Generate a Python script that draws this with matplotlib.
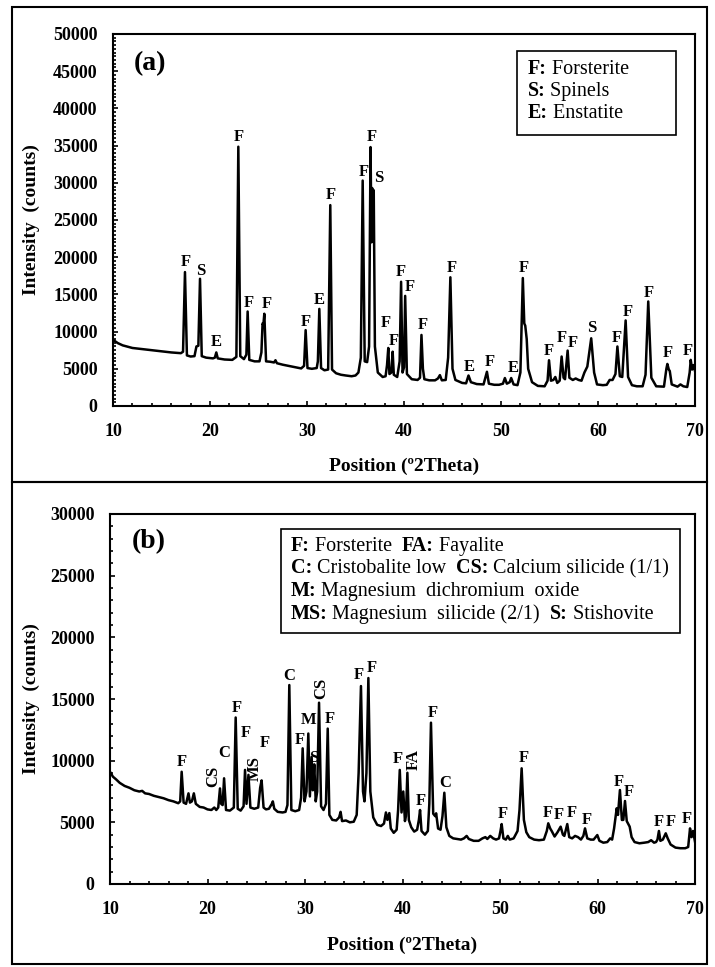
#!/usr/bin/env python3
from matplotlib import pyplot as plt
from matplotlib.patches import Rectangle
from matplotlib.ticker import MultipleLocator

# ---- panel (a): traced pattern vertices ----
theta_a = [10.0, 10.5, 11.0, 12.0, 13.0, 14.0, 15.0, 16.0, 17.0, 17.22, 17.42, 17.62, 18.0, 18.4, 18.6, 18.8,
           18.97, 19.15, 19.6, 20.3, 20.5, 20.65, 20.8, 21.5, 22.3, 22.72, 22.92, 23.12, 23.5, 23.75, 23.88, 24.05,
           24.6, 25.1, 25.3, 25.42, 25.5, 25.6, 25.78, 26.2, 26.6, 26.75, 26.9, 27.5, 28.5, 29.4, 29.7, 29.78,
           29.86, 30.05, 30.5, 31.0, 31.12, 31.27, 31.45, 31.8, 32.18, 32.4, 32.58, 33.0, 33.5, 34.0, 34.6, 35.0,
           35.3, 35.55, 35.74, 35.95, 36.2, 36.4, 36.55, 36.65, 36.72, 36.8, 36.88, 37.0, 37.3, 37.8, 38.1, 38.25,
           38.38, 38.5, 38.7, 38.83, 38.95, 39.3, 39.55, 39.7, 39.85, 40.0, 40.12, 40.3, 40.8, 41.4, 41.65, 41.8,
           41.95, 42.1, 42.6, 43.2, 43.5, 43.7, 43.9, 44.3, 44.55, 44.78, 45.0, 45.3, 46.0, 46.4, 46.65, 46.9,
           47.5, 48.2, 48.55, 48.75, 49.3, 49.8, 50.2, 50.4, 50.6, 50.9, 51.05, 51.3, 51.7, 52.0, 52.25, 52.4,
           52.5, 52.65, 52.8, 53.2, 53.8, 54.5, 54.8, 54.95, 55.15, 55.4, 55.6, 55.8, 56.05, 56.25, 56.45, 56.6,
           56.87, 57.05, 57.4, 57.7, 58.0, 58.3, 58.6, 58.9, 59.3, 59.6, 59.9, 60.5, 60.9, 61.2, 61.5, 61.8,
           62.0, 62.25, 62.5, 62.85, 63.1, 63.5, 64.0, 64.6, 64.9, 65.18, 65.5, 66.0, 66.8, 67.05, 67.15, 67.3,
           67.4, 67.6, 68.2, 68.5, 68.8, 69.2, 69.45, 69.56, 69.7, 69.85, 70.0]
counts_a = [8900, 8450, 8150, 7800, 7650, 7500, 7350, 7200, 7100, 7300, 18000, 6800, 6650, 6700, 8000, 8100,
            17100, 6700, 6500, 6400, 6500, 7200, 6400, 6250, 6200, 6600, 34850, 6700, 6300, 6900, 12700, 6200,
            6000, 6000, 7200, 11100, 10900, 12400, 6000, 5950, 5850, 6150, 5750, 5550, 5290, 5050, 5400, 7700,
            10200, 5100, 5000, 5100, 6000, 13050, 5100, 4800, 4900, 27000, 4900, 4400, 4200, 4100, 4000, 4100,
            4500, 6500, 30300, 6000, 5900, 8000, 34800, 22000, 29300, 22500, 29000, 8000, 4500, 3900, 4000, 5500,
            7800, 4300, 4500, 7300, 4200, 3900, 6000, 16700, 4500, 5200, 14800, 4300, 3600, 3500, 3800, 9550,
            5000, 3600, 3450, 3450, 3700, 4150, 3450, 3500, 6500, 17300, 5000, 3500, 3100, 3050, 4100, 3200,
            2950, 2900, 4600, 3000, 2850, 2850, 3000, 3760, 3000, 3200, 3760, 2900, 2800, 4500, 17200, 11100,
            10800, 9000, 5000, 3200, 2700, 2650, 3400, 6150, 3400, 3500, 3900, 3100, 3400, 6650, 3800, 3600,
            7450, 3800, 3500, 3700, 3500, 3400, 4500, 5300, 9100, 4500, 2900, 2800, 2850, 3500, 3500, 4300,
            8000, 4000, 3900, 11500, 3900, 2800, 2650, 2650, 4200, 14050, 3800, 2650, 2600, 5000, 5650, 4900,
            4700, 2900, 2600, 2900, 2650, 2550, 4500, 6200, 4900, 5500, 4700]
labels_a = ['F', 'S', 'E', 'F', 'F', 'F', 'F', 'E', 'F', 'F', 'F', 'S', 'F', 'F', 'F', 'F', 'F', 'F',
            'E', 'F', 'E', 'F', 'F', 'F', 'F', 'S', 'F', 'F', 'F', 'F', 'F']
label_x_a = [17.49, 19.07, 20.69, 22.96, 24.05, 25.84, 29.9, 31.24, 32.47, 35.9, 36.73, 37.35, 38.1, 39.0,
             39.7, 40.55, 41.93, 44.98, 46.7, 48.8, 51.27, 52.4, 54.88, 56.25, 57.45, 59.35, 61.92, 63.05,
             65.19, 67.15, 69.3]
label_y_a = [19350, 18190, 8640, 36200, 13840, 13700, 11330, 14250, 28360, 31500, 36200, 30640, 11100, 8780,
             18050, 15950, 10890, 18590, 5290, 5960, 5060, 18500, 7430, 9100, 8420, 10440, 9100, 12680,
             15140, 7080, 7430]
legend_a = [[('F:', 'bold'), (' Forsterite', 'normal')],
            [('S:', 'bold'), (' Spinels', 'normal')],
            [('E:', 'bold'), (' Enstatite', 'normal')]]

# ---- panel (b): traced pattern vertices ----
theta_b = [10.0, 10.3, 10.6, 11.0, 11.5, 12.0, 12.5, 13.0, 13.3, 13.6, 14.0, 14.5, 15.0, 15.5, 16.0, 16.5,
           17.0, 17.2, 17.35, 17.55, 17.8, 18.05, 18.2, 18.4, 18.6, 18.8, 19.2, 19.6, 20.0, 20.4, 20.7, 20.9,
           21.1, 21.28, 21.4, 21.55, 21.7, 21.9, 22.3, 22.7, 22.89, 23.1, 23.4, 23.7, 23.85, 24.0, 24.2, 24.4,
           24.8, 25.2, 25.4, 25.55, 25.75, 26.0, 26.3, 26.6, 26.7, 26.85, 27.2, 27.7, 28.0, 28.2, 28.39, 28.6,
           29.0, 29.4, 29.6, 29.76, 29.95, 30.15, 30.34, 30.5, 30.68, 30.8, 30.95, 31.1, 31.25, 31.44, 31.65,
           31.9, 32.15, 32.33, 32.5, 32.8, 33.2, 33.5, 33.65, 33.8, 34.2, 34.6, 35.0, 35.3, 35.5, 35.74, 35.95,
           36.1, 36.3, 36.5, 36.7, 37.0, 37.4, 37.8, 38.1, 38.3, 38.45, 38.65, 38.8, 39.1, 39.4, 39.55, 39.72,
           39.9, 40.08, 40.25, 40.35, 40.5, 40.65, 40.9, 41.2, 41.5, 41.68, 41.8, 41.95, 42.3, 42.6, 42.75,
           42.92, 43.15, 43.35, 43.45, 43.65, 43.9, 44.1, 44.29, 44.5, 44.8, 45.2, 45.6, 46.0, 46.3, 46.58,
           46.8, 47.3, 47.8, 48.2, 48.5, 48.7, 49.0, 49.3, 49.6, 49.9, 50.05, 50.17, 50.35, 50.6, 50.8, 51.0,
           51.4, 51.8, 52.0, 52.22, 52.45, 52.7, 53.0, 53.5, 54.0, 54.5, 54.8, 54.95, 55.15, 55.3, 55.6, 55.9,
           56.22, 56.45, 56.6, 56.9, 57.1, 57.4, 57.7, 58.0, 58.3, 58.55, 58.72, 58.95, 59.3, 59.6, 59.98,
           60.2, 60.6, 61.0, 61.3, 61.5, 61.7, 61.97, 62.1, 62.3, 62.5, 62.65, 62.82, 63.0, 63.3, 63.5, 63.8,
           64.3, 64.8, 65.2, 65.5, 65.8, 66.0, 66.15, 66.3, 66.45, 66.7, 67.0, 67.2, 67.5, 68.0, 68.5, 69.0,
           69.3, 69.49, 69.65, 69.8, 70.0]
counts_b = [9100, 8700, 8500, 8200, 7950, 7800, 7600, 7500, 7550, 7350, 7300, 7150, 7050, 6950, 6800, 6700,
            6550, 6700, 9100, 6600, 6500, 7350, 6600, 6700, 7350, 6500, 6250, 6200, 6050, 6000, 6200, 6000,
            6200, 7750, 6500, 6400, 8570, 6000, 5950, 6200, 13500, 6100, 5950, 6300, 9250, 6500, 8850, 6200,
            6100, 6200, 7800, 8400, 6200, 6050, 6100, 6500, 6700, 6100, 5850, 5800, 5850, 6400, 16130, 6000,
            5900, 6000, 7000, 11000, 6700, 7500, 12200, 7100, 10300, 7600, 9700, 6700, 7500, 14700, 6300,
            6000, 6500, 12600, 5600, 5200, 5150, 5400, 5850, 5100, 5150, 5000, 5050, 5600, 9000, 16050, 7500,
            6700, 9000, 16700, 7500, 5400, 4800, 4700, 4900, 5800, 5200, 5750, 4500, 4150, 4400, 6000, 9250,
            5800, 7500, 5100, 5500, 9020, 5200, 4600, 4250, 4400, 5200, 6000, 4300, 4000, 4300, 6500,
            13080, 5700, 5500, 5730, 4500, 4400, 5500, 7400, 4600, 3900, 3700, 3650, 3600, 3700, 3900,
            3650, 3500, 3500, 3700, 3800, 3650, 3900, 3700, 3600, 3700, 4300, 4860, 3700, 3600, 3900, 3600,
            3700, 4300, 6000, 9380, 5200, 4200, 3800, 3600, 3550, 3600, 4300, 4920, 4500, 4300, 3850, 4200,
            4650, 4000, 3900, 4860, 3800, 3700, 3900, 3800, 3600, 3900, 4510, 3700, 3600, 3600, 3970,
            3500, 3350, 3400, 3700, 3600, 4500, 6140, 5600, 7620, 5190, 5200, 6730, 5100, 4650, 3800, 3400,
            3300, 3350, 3400, 3550, 3350, 3400, 3600, 4300, 3500, 3600, 4110, 3700, 3200, 2950, 2900, 2900,
            3000, 4510, 3800, 4300, 3430]
labels_b = ['F', 'CS', 'C', 'F', 'F', 'MS', 'F', 'C', 'F', 'M', 'S', 'CS', 'F', 'F', 'F', 'F', 'FA', 'F',
            'F', 'C', 'F', 'F', 'F', 'F', 'F', 'F', 'F', 'F', 'F', 'F', 'F']
label_x_b = [17.35, 20.6, 21.7, 23.0, 23.95, 24.87, 25.83, 28.39, 29.49, 30.34, 30.85, 31.7, 32.56, 35.47,
             36.9, 39.57, 41.2, 41.9, 43.1, 44.36, 50.27, 52.4, 54.9, 56.05, 57.35, 58.89, 62.2, 63.26,
             66.24, 67.54, 69.2]
label_y_b = [9920, 8700, 10650, 14300, 12220, 9380, 11400, 16860, 11680, 13300, 10190, 15870, 13350, 16950,
             17490, 10110, 10110, 6760, 13840, 8160, 5680, 10240, 5730, 5590, 5730, 5190, 8300, 7430,
             5050, 5050, 5250]
label_rot_b = [0, 90, 0, 0, 0, 90, 0, 0, 0, 0, 0, 90, 0, 0, 0, 0, 90, 0, 0, 0, 0, 0, 0, 0, 0, 0, 0, 0, 0, 0, 0]
legend_b = [[('F:', 'bold'), (' Forsterite  ', 'normal'), ('FA:', 'bold'), (' Fayalite', 'normal')],
            [('C:', 'bold'), (' Cristobalite low  ', 'normal'), ('CS:', 'bold'),
             (' Calcium silicide (1/1)', 'normal')],
            [('M:', 'bold'), (' Magnesium  dichromium  oxide', 'normal')],
            [('MS:', 'bold'), (' Magnesium  silicide (2/1)  ', 'normal'), ('S:', 'bold'),
             (' Stishovite', 'normal')]]

SERIF = 'Liberation Serif'


def rich_line(ax, x, y, parts, size=14.5):
  t = ax.text(x, y, parts[0][0], transform=ax.transAxes, fontsize=size, fontweight=parts[0][1],
              family=SERIF, ha='left', va='center')
  for s, w in parts[1:]:
    t = ax.annotate(s, xy=(1, 0), xycoords=t, fontsize=size, fontweight=w, family=SERIF,
                    ha='left', va='bottom')


def panel(ax, x, y, labels, lx, ly, rot, ymax, ystep, yminor, tag, tagpos,
          legend, box, rows, textx, ylab_x, xlab_y):
  ax.plot(x, y, 'k', lw=1.8, solid_joinstyle='round')
  for s, a, b, r in zip(labels, lx, ly, rot):
    ax.text(a, b, s, ha='center', va='center', rotation=r, fontsize=12, fontweight='bold', family=SERIF)
  ax.set_xlim(10, 70)
  ax.set_ylim(0, ymax)
  ax.xaxis.set_major_locator(MultipleLocator(10))
  ax.xaxis.set_minor_locator(MultipleLocator(2))
  ax.yaxis.set_major_locator(MultipleLocator(ystep))
  ax.yaxis.set_minor_locator(MultipleLocator(yminor))
  ax.tick_params(which='both', direction='in', top=False, right=False, width=1.2)
  ax.tick_params(which='major', length=3.5)
  ax.tick_params(which='minor', length=2.5)
  ax.tick_params(axis='y', which='major', pad=11)
  ax.tick_params(axis='x', which='major', pad=12)
  for lab in ax.get_xticklabels() + ax.get_yticklabels():
    lab.set_fontsize(13)
    lab.set_fontweight('bold')
    lab.set_family(SERIF)
  for sp in ax.spines.values():
    sp.set_linewidth(1.5)
  ax.set_xlabel('Position (\u00ba2Theta)', fontsize=14, fontweight='bold', family=SERIF)
  ax.set_ylabel('Intensity  (counts)', fontsize=14, fontweight='bold', family=SERIF)
  ax.yaxis.set_label_coords(ylab_x, 0.5)
  ax.xaxis.set_label_coords(0.5, xlab_y)
  ax.text(*tagpos, tag, transform=ax.transAxes, fontsize=20, fontweight='bold', family=SERIF,
          ha='center', va='center')
  ax.add_patch(Rectangle((box[0], box[1]), box[2] - box[0], box[3] - box[1], transform=ax.transAxes,
                         fill=False, lw=1.2, ec='k'))
  for parts, ry in zip(legend, rows):
    rich_line(ax, textx, ry, parts)


def main():
  W, H = 715, 967
  f = plt.figure(figsize=(W / 100, H / 100), dpi=100)

  axa = f.add_axes((113 / W, 1 - 406 / H, 582 / W, 372 / H))
  panel(axa, theta_a, counts_a, labels_a, label_x_a, label_y_a, [0] * len(labels_a),
        50000, 5000, 500, '(a)', (0.0636, 0.921), legend_a,
        (0.695, 0.728, 0.967, 0.954), (0.906, 0.8476, 0.787), 0.7126, -0.126, -0.14)

  axb = f.add_axes((110 / W, 1 - 884 / H, 585 / W, 370 / H))
  panel(axb, theta_b, counts_b, labels_b, label_x_b, label_y_b, label_rot_b,
        30000, 5000, 1000, '(b)', (0.0655, 0.925), legend_b,
        (0.2923, 0.6776, 0.974, 0.9595), (0.9143, 0.8532, 0.7927, 0.7289), 0.3089, -0.12, -0.143)

  # outer frames around both panels
  f.add_artist(Rectangle((12 / W, 1 - 482 / H), 695 / W, 475 / H, transform=f.transFigure,
                         fill=False, lw=1.5, ec='k'))
  f.add_artist(Rectangle((12 / W, 1 - 964 / H), 695 / W, 482 / H, transform=f.transFigure,
                         fill=False, lw=1.5, ec='k'))

  f.savefig('out.png', dpi=100)
  plt.close(f)


if __name__ == '__main__':
  main()
